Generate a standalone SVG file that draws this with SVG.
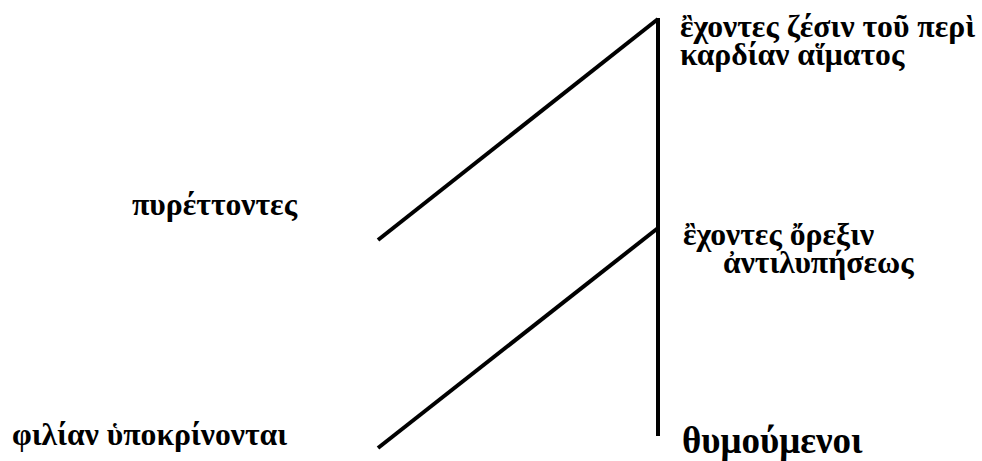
<svg xmlns="http://www.w3.org/2000/svg" width="982" height="461" viewBox="0 0 982 461">
<style>
.t{font-family:"Liberation Serif","DejaVu Serif",serif;font-weight:bold;font-size:31.7px;fill:#000}
.big{font-size:37px}
.ln{stroke:#000;stroke-width:4;fill:none}
</style>
<rect width="982" height="461" fill="#fff"/>
<g id="connectors">
<line class="ln" x1="658" y1="18" x2="658" y2="436"/>
<line class="ln" x1="378" y1="240" x2="658" y2="19"/>
<line class="ln" x1="378" y1="448" x2="658" y2="228"/>
</g>
<g id="node-zesin"><text class="t" x="680" y="37">ἒχοντες ζέσιν τοῦ περὶ</text><text class="t" x="680" y="65">καρδίαν αἵματος</text></g>
<g id="node-orexin"><text class="t" x="683" y="245">ἒχοντες ὄρεξιν</text><text class="t" x="723" y="273">ἀντιλυπήσεως</text></g>
<g id="node-pyrettontes"><text class="t" x="132" y="215">πυρέττοντες</text></g>
<g id="node-philian"><text class="t" x="12" y="445">φιλίαν ὑποκρίνονται</text></g>
<g id="node-thymoumenoi"><text class="t big" x="682" y="453">θυμούμενοι</text></g>
</svg>
